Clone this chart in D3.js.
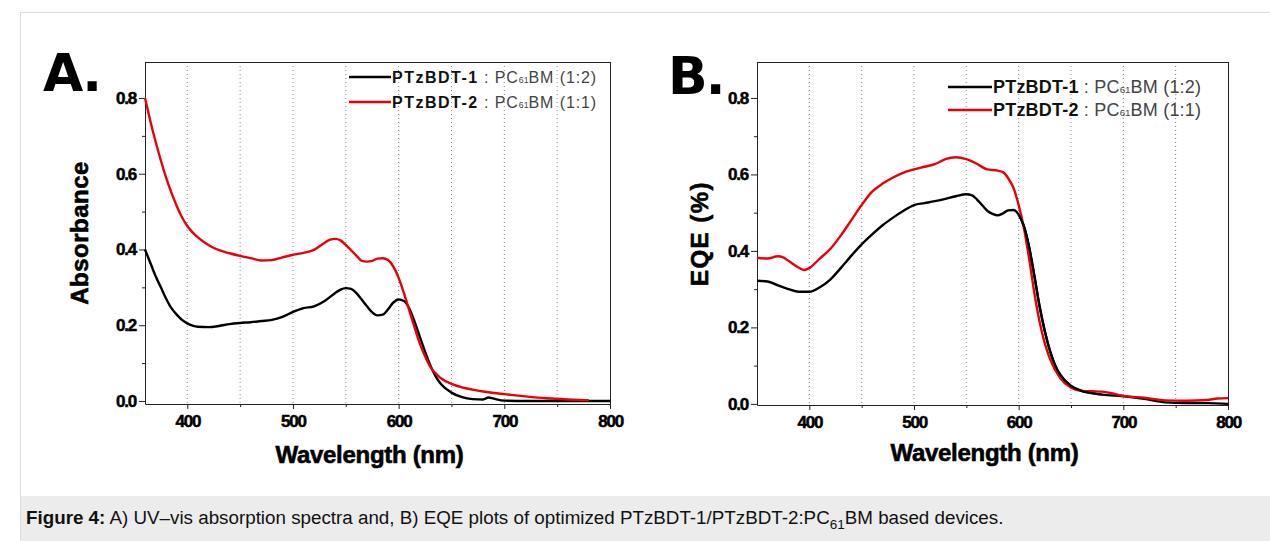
<!DOCTYPE html>
<html lang="en">
<head>
<meta charset="utf-8">
<script src="https://d3js.org/d3.v7.min.js"></script>
<style>
  body { margin: 0; background: #fff; }
  svg text { font-family: "Liberation Sans", Arial, sans-serif; }
</style>
</head>
<body>
<script>

// ---- data ----
// A: UV-vis absorbance
const absWl1 = [360,365,370,375,380,385,390,395,400,405,410,420,430,440,450,460,470,480,490,500,510,520,530,540,545,550,555,560,565,570,575,580,585,590,595,600,605,610,615,620,625,630,635,640,650,660,670,680,685,690,700,720,750,800];
const absVal1 = [0.40,0.365,0.33,0.30,0.27,0.245,0.228,0.214,0.205,0.199,0.196,0.195,0.198,0.203,0.206,0.208,0.211,0.214,0.222,0.235,0.245,0.25,0.264,0.285,0.294,0.298,0.296,0.285,0.268,0.25,0.234,0.226,0.228,0.242,0.26,0.268,0.264,0.245,0.21,0.17,0.13,0.094,0.065,0.045,0.022,0.01,0.005,0.004,0.009,0.006,0.001,0.0,0.0,0.0];
const absWl2 = [360,365,370,375,380,385,390,395,400,405,410,420,430,440,450,460,470,480,490,500,510,520,530,535,540,545,550,555,560,565,570,575,580,585,590,595,600,605,610,615,620,625,630,640,650,660,670,680,690,700,720,740,760,780];
const absVal2 = [0.80,0.74,0.685,0.635,0.59,0.55,0.515,0.485,0.462,0.445,0.432,0.412,0.398,0.39,0.383,0.377,0.371,0.372,0.379,0.386,0.391,0.399,0.418,0.426,0.428,0.424,0.412,0.398,0.384,0.37,0.368,0.37,0.376,0.377,0.372,0.355,0.325,0.285,0.24,0.195,0.152,0.118,0.09,0.06,0.045,0.036,0.03,0.025,0.021,0.018,0.012,0.007,0.004,0.002];

// B: EQE
const eqeWl1 = [350,360,370,380,390,400,410,420,430,440,450,460,470,480,490,500,510,520,530,540,550,555,560,565,570,575,580,585,590,595,600,605,610,615,620,625,630,635,640,650,660,670,680,700,720,740,760,780,800];
const eqeVal1 = [0.322,0.32,0.31,0.3,0.293,0.293,0.305,0.325,0.355,0.387,0.417,0.443,0.467,0.487,0.505,0.52,0.525,0.53,0.536,0.543,0.548,0.546,0.535,0.52,0.505,0.497,0.493,0.498,0.506,0.507,0.495,0.465,0.41,0.335,0.255,0.19,0.138,0.1,0.075,0.047,0.034,0.028,0.024,0.02,0.013,0.004,0.002,0.002,0.0];
const eqeWl2 = [350,360,370,375,380,390,395,400,410,420,430,440,450,460,470,480,490,500,510,520,530,540,550,560,570,580,585,590,595,600,605,610,615,620,625,630,640,650,660,670,680,690,700,720,740,760,780,790,800];
const eqeVal2 = [0.382,0.38,0.386,0.383,0.374,0.356,0.35,0.355,0.38,0.405,0.44,0.48,0.52,0.555,0.576,0.592,0.605,0.613,0.62,0.627,0.64,0.645,0.64,0.628,0.613,0.61,0.606,0.59,0.565,0.52,0.46,0.38,0.29,0.215,0.158,0.117,0.066,0.042,0.034,0.033,0.032,0.027,0.021,0.016,0.009,0.008,0.01,0.014,0.015];

const legendNames = ['PTzBDT-1', 'PTzBDT-2'];
const legendRatio = ['(1:2)', '(1:1)'];
const seriesColors = ['#000000', '#e8000b'];
const xTicks = [400, 500, 600, 700, 800];
const gridTicks = [400, 450, 500, 550, 600, 650, 700, 750];
const yTicks = [0.0, 0.2, 0.4, 0.6, 0.8];
const yMinor = [0.1, 0.3, 0.5, 0.7];

const W = 1270, H = 541;
const svg = d3.select('body').append('svg').attr('width', W).attr('height', H);

// figure box + caption band
svg.append('rect').attr('x', 20.5).attr('y', 12.5).attr('width', W).attr('height', H)
  .attr('fill', '#fff').attr('stroke', '#dcdcdc');
svg.append('rect').attr('x', 21).attr('y', 496).attr('width', W).attr('height', H - 496)
  .attr('fill', '#ececec');

const cap = svg.append('text').attr('x', 26).attr('y', 524).attr('font-size', 18.8).attr('fill', '#111')
  .style('font-family', '"Liberation Sans", Arial, sans-serif');
cap.append('tspan').attr('font-weight', 'bold').text('Figure 4:');
cap.append('tspan').text(' A) UV\u2013vis absorption spectra and, B) EQE plots of optimized PTzBDT-1/PTzBDT-2:PC');
cap.append('tspan').attr('font-size', 13.5).attr('dy', 5).text('61');
cap.append('tspan').attr('dy', -5).text('BM based devices.');

function panel(cfg) {
  const x = d3.scaleLinear().domain(cfg.xDomain).range([cfg.left, cfg.right]);
  const y = d3.scaleLinear().domain(cfg.yDomain).range([cfg.bottom, cfg.top]);
  const g = svg.append('g');

  // dotted vertical grid
  g.selectAll('.grid').data(gridTicks).enter().append('line')
    .attr('x1', d => x(d)).attr('x2', d => x(d))
    .attr('y1', cfg.top).attr('y2', cfg.bottom)
    .attr('stroke', '#8a8a8a').attr('stroke-width', 1)
    .attr('stroke-dasharray', '1,3');

  // frame top / right
  g.append('line').attr('x1', cfg.left).attr('x2', cfg.right).attr('y1', cfg.top + 0.5).attr('y2', cfg.top + 0.5)
    .attr('stroke', '#222').attr('stroke-width', 1);
  g.append('line').attr('x1', cfg.right + 0.5).attr('x2', cfg.right + 0.5).attr('y1', cfg.top).attr('y2', cfg.bottom)
    .attr('stroke', '#222').attr('stroke-width', 1);

  // axes
  const xAxis = g.append('g').attr('transform', 'translate(0,' + cfg.bottom + ')')
    .call(d3.axisBottom(x).tickValues(xTicks).tickSize(5).tickSizeOuter(0).tickPadding(6).tickFormat(d3.format('d')));
  g.append('g').attr('transform', 'translate(0,' + cfg.bottom + ')')
    .call(d3.axisBottom(x).tickValues([450, 550, 650, 750]).tickSize(3).tickSizeOuter(0).tickFormat(''))
    .select('.domain').remove();
  const yAxis = g.append('g').attr('transform', 'translate(' + cfg.left + ',0)')
    .call(d3.axisLeft(y).tickValues(yTicks).tickSize(6).tickSizeOuter(0).tickPadding(3).tickFormat(d3.format('.1f')));
  g.append('g').attr('transform', 'translate(' + cfg.left + ',0)')
    .call(d3.axisLeft(y).tickValues(yMinor).tickSize(3).tickSizeOuter(0).tickFormat(''))
    .select('.domain').remove();

  [xAxis, yAxis].forEach(a => {
    a.select('.domain').attr('stroke', '#222');
    a.selectAll('.tick text').attr('font-size', 17).attr('font-weight', 'bold').attr('fill', '#000')
      .attr('letter-spacing', '-1.2px').attr('stroke', '#000').attr('stroke-width', 0.5)
      .style('font-family', '"Liberation Sans", Arial, sans-serif');
  });
  g.selectAll('.tick line').attr('stroke', '#222');

  // curves
  const line = d3.line().x(d => x(d[0])).y(d => y(d[1])).curve(d3.curveMonotoneX);
  cfg.series.forEach((s, i) => {
    g.append('path').datum(d3.zip(s[0], s[1]))
      .attr('fill', 'none').attr('stroke', seriesColors[i]).attr('stroke-width', 2.4)
      .attr('stroke-linejoin', 'round').attr('d', line);
  });
  // in B the black falling edge sits on top of the red one
  if (cfg.blackOnTop) {
    g.append('path').datum(d3.zip(cfg.series[0][0], cfg.series[0][1]).filter(d => d[0] >= 600 && d[0] <= 680))
      .attr('fill', 'none').attr('stroke', seriesColors[0]).attr('stroke-width', 2.2)
      .attr('d', line);
  }

  // panel letter
  g.append('text').attr('x', cfg.letterX).attr('y', cfg.letterY)
    .attr('font-size', 52).attr('font-weight', 'bold').attr('letter-spacing', '-2px')
    .style('font-family', '"DejaVu Sans", "Liberation Sans", sans-serif')
    .text(cfg.letter);

  // axis titles
  g.append('text').attr('x', (cfg.left + cfg.right) / 2 - 8).attr('y', cfg.xTitleY)
    .attr('text-anchor', 'middle').attr('font-size', 24).attr('font-weight', 'bold')
    .attr('stroke', '#000').attr('stroke-width', 0.6)
    .attr('letter-spacing', '-0.3px').text('Wavelength (nm)');
  g.append('text').attr('transform', 'translate(' + cfg.yTitleX + ',' + ((cfg.top + cfg.bottom) / 2) + ') rotate(-90)')
    .attr('text-anchor', 'middle').attr('font-size', 24).attr('font-weight', 'bold')
    .attr('stroke', '#000').attr('stroke-width', 0.6)
    .attr('letter-spacing', cfg.yTitleSpacing).text(cfg.yTitle);

  // legend
  legendNames.forEach((name, i) => {
    const ly = cfg.legY + i * cfg.legGap;
    g.append('line').attr('x1', cfg.legX).attr('x2', cfg.legX + cfg.legLen)
      .attr('y1', ly).attr('y2', ly).attr('stroke', seriesColors[i]).attr('stroke-width', 2.6);
    const t = g.append('text').attr('x', cfg.legX + cfg.legLen + 1).attr('y', ly + 6)
      .attr('font-size', cfg.legFont).attr('fill', '#111');
    t.append('tspan').attr('font-weight', 'bold').attr('letter-spacing', cfg.legSpacing).text(name);
    t.append('tspan').attr('fill', '#444').attr('letter-spacing', cfg.legSpacing2).text(' : PC');
    t.append('tspan').attr('fill', '#444').attr('font-size', cfg.legFont * 0.55).text('61');
    t.append('tspan').attr('fill', '#444').attr('letter-spacing', cfg.legSpacing2).text('BM ' + legendRatio[i]);
  });
}

panel({
  letter: 'A.', letterX: 43, letterY: 91,
  left: 145, right: 610, top: 62, bottom: 404,
  xDomain: [360, 800], yDomain: [-0.008, 0.895],
  yTitle: 'Absorbance', yTitleX: 88, yTitleSpacing: '0.5px', xTitleY: 463,
  series: [[absWl1, absVal1], [absWl2, absVal2]],
  blackOnTop: false,
  legX: 349, legY: 77, legGap: 25, legLen: 42, legFont: 16, legSpacing: '1.5px', legSpacing2: '0.9px'
});

panel({
  letter: 'B.', letterX: 668, letterY: 94,
  left: 757, right: 1228, top: 62, bottom: 405,
  xDomain: [350, 800], yDomain: [-0.003, 0.894],
  yTitle: 'EQE (%)', yTitleX: 708, yTitleSpacing: '1.5px', xTitleY: 461,
  series: [[eqeWl1, eqeVal1], [eqeWl2, eqeVal2]],
  blackOnTop: true,
  legX: 948, legY: 87, legGap: 23, legLen: 44, legFont: 18, legSpacing: '0.2px', legSpacing2: '0.2px'
});

</script>
</body>
</html>
